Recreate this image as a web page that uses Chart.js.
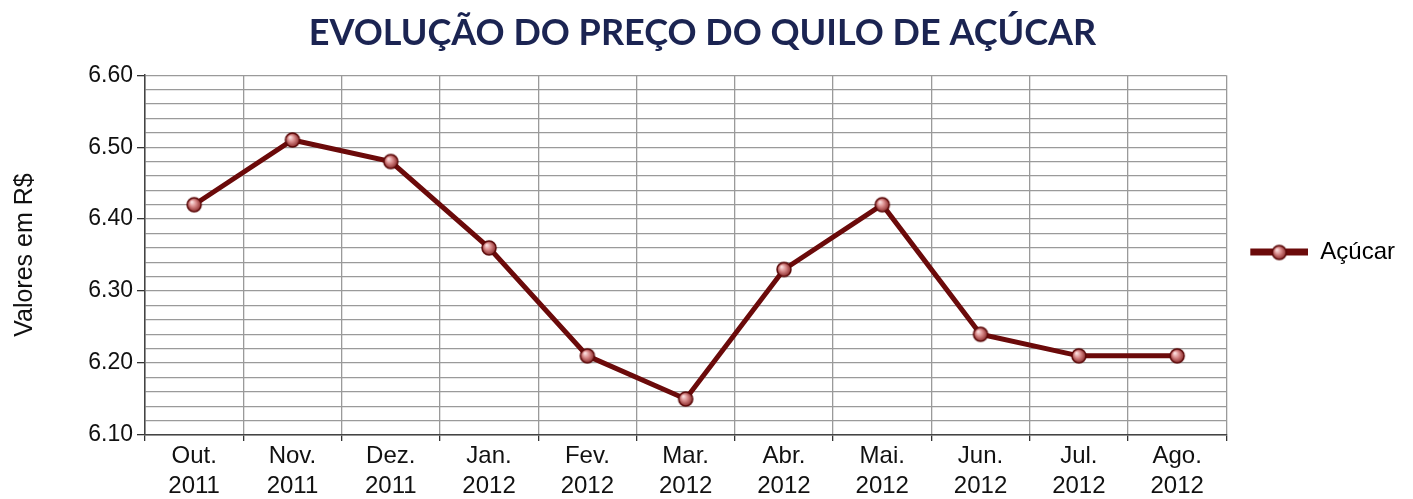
<!DOCTYPE html>
<html>
<head>
<meta charset="utf-8">
<script src="https://cdn.jsdelivr.net/npm/chart.js@4"></script>
<style>
  html, body { margin: 0; padding: 0; background: #fff; }
</style>
</head>
<body>
<canvas id="grafico" width="1413" height="499"></canvas>
<script>
    // Dados
    const meses = [
        ['Out.', '2011'], ['Nov.', '2011'], ['Dez.', '2011'], ['Jan.', '2012'],
        ['Fev.', '2012'], ['Mar.', '2012'], ['Abr.', '2012'], ['Mai.', '2012'],
        ['Jun.', '2012'], ['Jul.', '2012'], ['Ago.', '2012']
    ];
    const precos = [6.42, 6.51, 6.48, 6.36, 6.21, 6.15, 6.33, 6.42, 6.24, 6.21, 6.21];
    const yMin = 6.10;
    const yMax = 6.60;

    const corLinha = '#6b0a0a';

    // bolinha do ponto com gradiente
    function desenhaBola(ctx, cx, cy, r) {
        const g = ctx.createRadialGradient(cx - r * 0.35, cy - r * 0.4, 0.5, cx, cy, r);
        g.addColorStop(0, '#fbe0e0');
        g.addColorStop(0.45, '#d88a8a');
        g.addColorStop(1, '#8a2a2a');
        ctx.beginPath();
        ctx.arc(cx, cy, r, 0, Math.PI * 2);
        ctx.fillStyle = g;
        ctx.fill();
        ctx.lineWidth = 1.5;
        ctx.strokeStyle = '#5a0808';
        ctx.stroke();
    }

    const ponto = document.createElement('canvas');
    ponto.width = 18; ponto.height = 18;
    desenhaBola(ponto.getContext('2d'), 9, 9, 7);

    // simbolo da legenda: margem transparente + linha + bolinha
    const legendaImg = document.createElement('canvas');
    legendaImg.width = 72; legendaImg.height = 18;
    (function () {
        const c = legendaImg.getContext('2d');
        c.fillStyle = corLinha;
        c.fillRect(14, 5, 58, 7);
        desenhaBola(c, 43, 9, 7);
    })();

    function ehMaior(v) {
        return Math.abs(v * 10 - Math.round(v * 10)) < 1e-6;
    }

    const ctx = document.getElementById('grafico').getContext('2d');
    const grafico = new Chart(ctx, {
        type: 'line',
        data: {
            labels: meses,
            datasets: [{
                label: 'Açúcar',
                data: precos,
                borderColor: corLinha,
                backgroundColor: corLinha,
                borderWidth: 5,
                tension: 0,
                pointStyle: ponto,
                pointRadius: 7,
                fill: false
            }]
        },
        options: {
            responsive: false,
            animation: false,
            layout: {
                padding: { left: 0, right: 8, top: 6, bottom: 0 }
            },
            scales: {
                x: {
                    offset: true,
                    afterFit: (scale) => { scale.height = 64; },
                    grid: {
                        offset: true,
                        color: '#9a9a9a',
                        lineWidth: 1.3,
                        tickLength: 6,
                        tickColor: '#333'
                    },
                    border: { color: '#444', width: 1.5 },
                    ticks: {
                        color: '#111',
                        font: { family: 'Liberation Sans', size: 24, lineHeight: 1.25 },
                        padding: 0,
                        maxRotation: 0,
                        autoSkip: false
                    }
                },
                y: {
                    min: yMin,
                    max: yMax,
                    afterFit: (scale) => { scale.width = 145; },
                    grid: {
                        color: '#9a9a9a',
                        lineWidth: 1.3,
                        tickLength: 8,
                        tickColor: (c) => (c.tick && ehMaior(c.tick.value)) ? '#333' : 'rgba(0,0,0,0)'
                    },
                    border: { color: '#444', width: 1.5 },
                    ticks: {
                        stepSize: 0.02,
                        autoSkip: false,
                        color: '#111',
                        font: { family: 'Liberation Sans', size: 23 },
                        padding: 4,
                        callback: (v) => ehMaior(v) ? v.toFixed(2) : ''
                    },
                    title: {
                        display: true,
                        text: 'Valores em R$',
                        color: '#111',
                        font: { family: 'Liberation Sans', size: 25 },
                        padding: { top: 10, bottom: 8 }
                    }
                }
            },
            plugins: {
                title: {
                    display: true,
                    text: 'EVOLUÇÃO DO PREÇO DO QUILO DE AÇÚCAR',
                    color: '#1b2452',
                    font: { family: 'Lato', size: 36, weight: 'bold' },
                    padding: { top: 6, bottom: 20 }
                },
                legend: {
                    position: 'right',
                    labels: {
                        usePointStyle: true,
                        pointStyleWidth: 72,
                        color: '#111',
                        font: { family: 'Liberation Sans', size: 24 },
                        padding: 10,
                        generateLabels: (chart) => [{
                            text: 'Açúcar',
                            pointStyle: legendaImg,
                            fillStyle: corLinha,
                            strokeStyle: corLinha,
                            lineWidth: 0,
                            datasetIndex: 0,
                            hidden: false
                        }]
                    }
                },
                tooltip: { enabled: false }
            }
        }
    });
</script>
</body>
</html>
